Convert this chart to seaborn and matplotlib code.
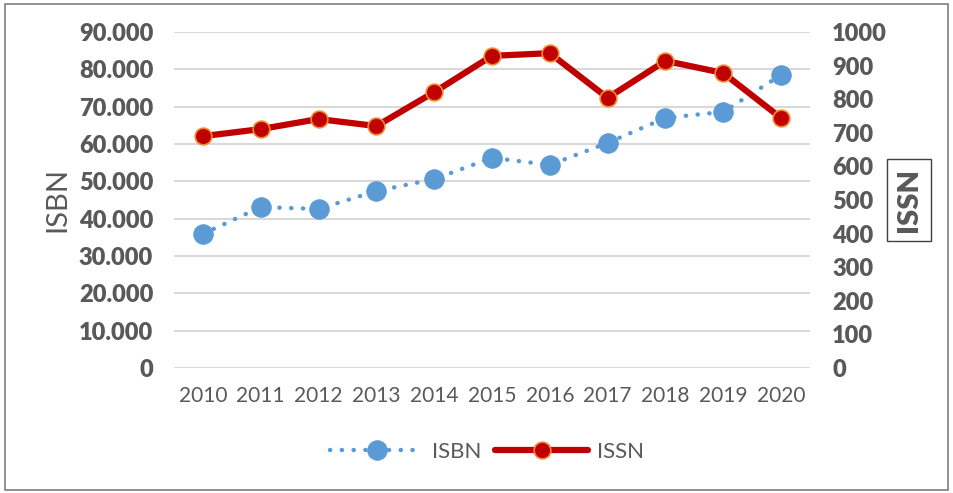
import matplotlib
matplotlib.use("Agg")
import matplotlib.pyplot as plt
import seaborn as sns
import pandas as pd
from matplotlib.patches import Rectangle

years = ['2010', '2011', '2012', '2013', '2014', '2015', '2016', '2017', '2018', '2019', '2020']
isbn = [35900, 43100, 42600, 47400, 50600, 56300, 54400, 60300, 67000, 68600, 78500]
issn = [690, 711, 741, 720, 821, 929, 937, 804, 914, 878, 744]

left_ticks = [0, 10000, 20000, 30000, 40000, 50000, 60000, 70000, 80000, 90000]
left_labels = ['0', '10.000', '20.000', '30.000', '40.000', '50.000', '60.000', '70.000', '80.000', '90.000']
right_ticks = [0, 100, 200, 300, 400, 500, 600, 700, 800, 900, 1000]

sns.set_style("white")
plt.rcParams['font.family'] = ['Lato', 'DejaVu Sans']

df = pd.DataFrame({'year': years, 'ISBN': isbn, 'ISSN': issn})
df['x'] = range(len(years))

gray = '#595959'
blue = '#5B9BD5'
red = '#C00000'

fig = plt.figure(figsize=(9.54, 4.93), dpi=100)
ax = fig.add_axes([174 / 954, 1 - 368 / 493, (810 - 174) / 954, (368 - 32) / 493])
ax2 = ax.twinx()

# outer chart border
fig.add_artist(Rectangle((5 / 954, 3 / 493), 943 / 954, 486 / 493, transform=fig.transFigure,
                         fill=False, edgecolor='#7f7f7f', linewidth=1.2))

sns.lineplot(data=df, x='x', y='ISBN', ax=ax, color=blue, linewidth=3.2, linestyle=(0, (0.05, 2.6)),
             marker='o', markersize=14, markeredgecolor=blue, dash_capstyle='round', label='ISBN',
             legend=False)
sns.lineplot(data=df, x='x', y='ISSN', ax=ax2, color=red, linewidth=4.5,
             marker='o', markersize=12, markeredgecolor='#F08A30', markeredgewidth=1.2,
             label='ISSN', legend=False)

ax.set_ylim(0, 90000)
ax2.set_ylim(0, 1000)
ax.set_xlim(-0.5, len(years) - 0.5)
ax.set_yticks(left_ticks)
ax.set_yticklabels(left_labels)
ax2.set_yticks(right_ticks)
ax.set_xticks(df['x'])
ax.set_xticklabels(years)

ax.grid(axis='y', color='#D9D9D9', linewidth=1.5)
ax.set_axisbelow(True)
for a in (ax, ax2):
    for s in a.spines.values():
        s.set_visible(False)
    a.tick_params(length=0)

ax.tick_params(axis='y', labelsize=17, labelcolor=gray, pad=15)
ax.tick_params(axis='x', labelsize=15, labelcolor=gray, pad=13)
for t in ax.get_yticklabels():
    t.set_fontweight('heavy')
ax2.tick_params(axis='y', labelsize=17, labelcolor=gray, pad=16)
for t in ax2.get_yticklabels():
    t.set_fontweight('heavy')

ax.set_xlabel('')
ax.set_ylabel('')
ax2.set_ylabel('')
fig.text(57 / 954, 1 - 200 / 493, 'ISBN', rotation=90, ha='center', va='center',
         fontsize=21, color=gray)
fig.text(909 / 954, 1 - 200 / 493, 'ISSN', rotation=90, ha='center', va='center',
         fontsize=21, color=gray, fontweight='heavy',
         bbox=dict(boxstyle='square,pad=0.3', facecolor='white', edgecolor='#404040', linewidth=1))

h1, l1 = ax.get_legend_handles_labels()
h2, l2 = ax2.get_legend_handles_labels()
fig.legend(h1 + h2, l1 + l2, loc='center', bbox_to_anchor=(487 / 954, 1 - 452 / 493), ncol=2,
           frameon=False, fontsize=16, labelcolor=gray, handlelength=4.2, columnspacing=0.6,
           handletextpad=0.4)

fig.savefig('out.png', dpi=100)
